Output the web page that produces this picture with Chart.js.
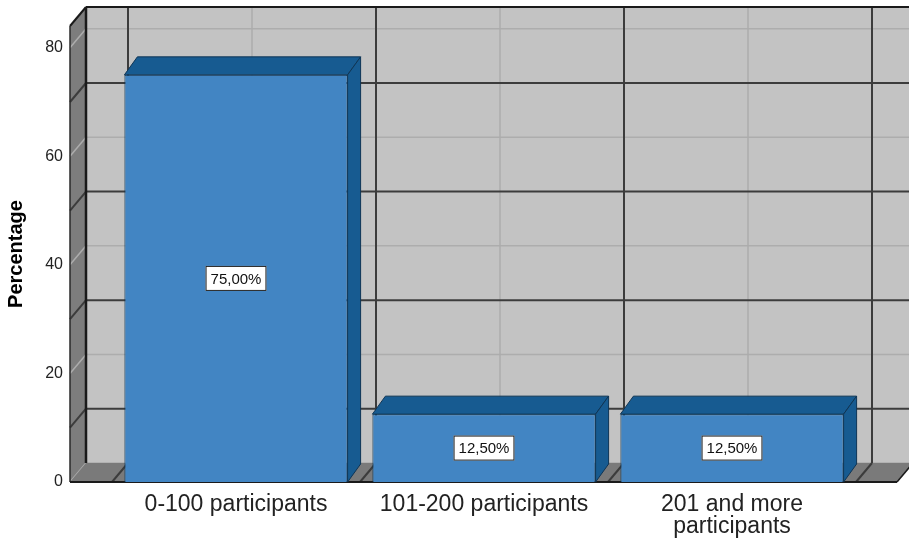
<!DOCTYPE html>
<html>
<head>
<meta charset="utf-8">
<script src="https://cdn.jsdelivr.net/npm/chart.js@4"></script>
<style>
  html, body { margin: 0; padding: 0; background: #fff; }
  #wrap { width: 909px; height: 541px; }
</style>
</head>
<body>
<div id="wrap"><canvas id="chart" width="909" height="541"></canvas></div>
<script>
// Group sizes and their share of respondents
const categories = ['0-100 participants', '101-200 participants', ['201 and more', 'participants']];
const percentages = [75, 12.5, 12.5];
const yTicks = [0, 20, 40, 60, 80];

// depth of the box (walls/floor) and of the bars
const WALL_DX = 16, WALL_DY = -19;
const BAR_DX = 13, BAR_DY = -18;

const BACK_WALL = '#c3c3c3';
const SIDE_WALL = '#7d7d7d';
const FLOOR = '#7a7a7a';
const LIGHT_LINE = '#adadad';
const DARK_LINE = '#3c3c3c';
const BAR_FRONT = '#4285c3';
const BAR_DARK = '#175b91';
const BAR_EDGE = '#0f3555';

function line(ctx, x1, y1, x2, y2, color, w) {
    ctx.beginPath();
    ctx.moveTo(x1, y1);
    ctx.lineTo(x2, y2);
    ctx.strokeStyle = color;
    ctx.lineWidth = w;
    ctx.stroke();
}

function poly(ctx, pts, fill, stroke) {
    ctx.beginPath();
    ctx.moveTo(pts[0][0], pts[0][1]);
    pts.slice(1).forEach(p => ctx.lineTo(p[0], p[1]));
    ctx.closePath();
    ctx.fillStyle = fill;
    ctx.fill();
    if (stroke) {
        ctx.strokeStyle = stroke;
        ctx.lineWidth = 1;
        ctx.stroke();
    }
}

// no extra room for overhanging tick labels
function noScalePadding(scale) {
    scale.paddingTop = 0;
    scale.paddingBottom = 0;
    scale.paddingLeft = 0;
    scale.paddingRight = 0;
}

const box3d = {
    id: 'box3d',
    beforeDraw(chart) {
        const ctx = chart.ctx;
        ctx.save();
        ctx.fillStyle = '#fff';
        ctx.fillRect(0, 0, chart.width, chart.height);
        ctx.restore();
    },
    beforeDatasetsDraw(chart) {
        const { ctx, chartArea: a, scales: { x, y } } = chart;
        const W = chart.width;
        const fl = a.left - 42, fr = a.right + 41;
        const bl = fl + WALL_DX, br = fr + WALL_DX;
        const ft = a.top, fb = a.bottom;
        const bt = ft + WALL_DY, bb = fb + WALL_DY;
        const minor = yTicks.slice(0, -1).map((v, i) => (v + yTicks[i + 1]) / 2);

        // category boundaries and centres on the front plane
        const centers = categories.map((c, i) => x.getPixelForValue(i));
        const bounds = [a.left];
        for (let i = 0; i < centers.length - 1; i++) bounds.push((centers[i] + centers[i + 1]) / 2);
        bounds.push(a.right);

        ctx.save();
        // back wall
        ctx.fillStyle = BACK_WALL;
        ctx.fillRect(bl, bt, W - bl, bb - bt);
        yTicks.forEach(v => {
            const py = y.getPixelForValue(v) + WALL_DY;
            line(ctx, bl, py, W, py, LIGHT_LINE, 1.5);
        });
        centers.forEach(cx => line(ctx, cx + WALL_DX, bt, cx + WALL_DX, bb, LIGHT_LINE, 1.5));
        minor.forEach(v => {
            const py = y.getPixelForValue(v) + WALL_DY;
            line(ctx, bl, py, W, py, DARK_LINE, 2);
        });
        bounds.forEach(bx => line(ctx, bx + WALL_DX, bt, bx + WALL_DX, bb, DARK_LINE, 2));

        // left wall
        poly(ctx, [[fl, ft], [bl, bt], [bl, bb], [fl, fb]], SIDE_WALL);
        yTicks.forEach(v => {
            const py = y.getPixelForValue(v);
            line(ctx, fl, py, bl, py + WALL_DY, LIGHT_LINE, 1.5);
        });
        minor.forEach(v => {
            const py = y.getPixelForValue(v);
            line(ctx, fl, py, bl, py + WALL_DY, DARK_LINE, 2);
        });

        // floor
        poly(ctx, [[fl, fb], [fr, fb], [br, bb], [bl, bb]], FLOOR);
        centers.forEach(cx => line(ctx, cx, fb, cx + WALL_DX, bb, LIGHT_LINE, 1.5));
        bounds.forEach(bx => line(ctx, bx, fb, bx + WALL_DX, bb, DARK_LINE, 2));

        // box edges
        line(ctx, bl, bt, W, bt, '#1a1a1a', 2);
        line(ctx, fl, ft, bl, bt, '#1a1a1a', 2);
        line(ctx, fl, ft, fl, fb, '#2a2a2a', 1.5);
        line(ctx, bl, bt, bl, bb, '#1a1a1a', 2.5);
        line(ctx, fl, fb, fr, fb, '#1a1a1a', 2);
        line(ctx, fr, fb, br, bb, '#1a1a1a', 1.5);
        ctx.restore();
    },
    afterDatasetsDraw(chart) {
        const ctx = chart.ctx;
        const meta = chart.getDatasetMeta(0);
        ctx.save();
        meta.data.forEach((bar, i) => {
            const { x, y, base, width } = bar.getProps(['x', 'y', 'base', 'width'], true);
            const l = x - width / 2, r = x + width / 2;
            // top and right faces
            poly(ctx, [[l, y], [l + BAR_DX, y + BAR_DY], [r + BAR_DX, y + BAR_DY], [r, y]], BAR_DARK, BAR_EDGE);
            poly(ctx, [[r, y], [r + BAR_DX, y + BAR_DY], [r + BAR_DX, base + BAR_DY], [r, base]], BAR_DARK, BAR_EDGE);

            // value label in a white box, centred on the front face
            const text = percentages[i].toFixed(2).replace('.', ',') + '%';
            ctx.font = '15px "Liberation Sans", Arial, sans-serif';
            const tw = ctx.measureText(text).width;
            const cy = (y + base) / 2;
            const bw = tw + 10, bh = 25;
            ctx.fillStyle = '#fff';
            ctx.fillRect(x - bw / 2, cy - bh / 2, bw, bh);
            ctx.strokeStyle = '#222';
            ctx.lineWidth = 1;
            ctx.strokeRect(x - bw / 2 + 0.5, cy - bh / 2 + 0.5, bw - 1, bh - 1);
            ctx.fillStyle = '#111';
            ctx.textAlign = 'center';
            ctx.textBaseline = 'middle';
            ctx.fillText(text, x, cy + 1);
        });
        ctx.restore();
    }
};

new Chart(document.getElementById('chart'), {
    type: 'bar',
    data: {
        labels: categories,
        datasets: [{
            data: percentages,
            backgroundColor: BAR_FRONT,
            borderColor: BAR_EDGE,
            borderWidth: 1,
            barPercentage: 0.9,
            categoryPercentage: 1.0
        }]
    },
    options: {
        responsive: false,
        animation: false,
        layout: { padding: { top: 26, right: 53, left: 0, bottom: 0 } },
        plugins: { legend: { display: false }, tooltip: { enabled: false } },
        scales: {
            x: {
                grid: { display: false },
                border: { display: false },
                ticks: {
                    padding: 4,
                    maxRotation: 0,
                    autoSkip: false,
                    color: '#222',
                    font: { family: '"Liberation Sans", Arial, sans-serif', size: 23, lineHeight: 0.96 }
                },
                afterFit(scale) { scale.height = 59; noScalePadding(scale); }
            },
            y: {
                min: 0,
                max: 84,
                grid: { display: false },
                border: { display: false },
                afterBuildTicks(scale) { scale.ticks = yTicks.map(v => ({ value: v })); },
                ticks: {
                    padding: 41,
                    color: '#222',
                    font: { family: '"Liberation Sans", Arial, sans-serif', size: 16 }
                },
                title: {
                    display: true,
                    text: 'Percentage',
                    color: '#000',
                    padding: { top: 4, bottom: 0 },
                    font: { family: '"Liberation Sans", Arial, sans-serif', size: 20, weight: 'bold' }
                },
                afterFit(scale) { scale.width = 112; noScalePadding(scale); }
            }
        }
    },
    plugins: [box3d]
});
</script>
</body>
</html>
